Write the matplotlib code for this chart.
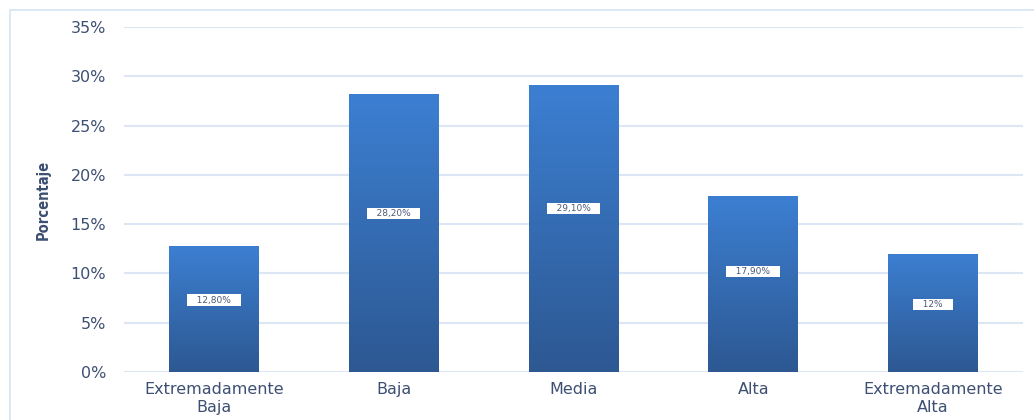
import numpy as np
import matplotlib.pyplot as plt
from matplotlib.patches import Rectangle
from matplotlib.colors import LinearSegmentedColormap

categorias = ['Extremadamente\nBaja', 'Baja', 'Media', 'Alta', 'Extremadamente\nAlta']
valores = [12.8, 28.2, 29.1, 17.9, 12.0]
etiquetas = ['12,80%', '28,20%', '29,10%', '17,90%', '12%']
yticks = [0, 5, 10, 15, 20, 25, 30, 35]

txt_color = '#3d4f72'

fig = plt.figure(figsize=(10.34, 4.2), dpi=100)
# light border around chart area
fig.patches.append(Rectangle((10/1034, -0.05), 1.1, (420-10)/420 + 0.05,
                             transform=fig.transFigure, fill=False,
                             edgecolor='#d6e4f5', linewidth=1.2))
ax = fig.add_axes([124/1034, 48/420, (1023-124)/1034, (372-27)/420])

x = np.arange(len(categorias))
bars = ax.bar(x, valores, width=0.5, color='#3570bb', zorder=2)

# vertical gradient on each bar
grad = np.linspace(0, 1, 256).reshape(-1, 1)
cmap = LinearSegmentedColormap.from_list('g', ['#2d5892', '#3c7fd2'])
for b in bars:
    bx, by = b.get_x(), b.get_y()
    w, h = b.get_width(), b.get_height()
    im = ax.imshow(grad, extent=[bx, bx + w, by, by + h], origin='lower',
                   cmap=cmap, aspect='auto', zorder=3)
    im.set_clip_path(b)

for xi, v, lab in zip(x, valores, etiquetas):
    ax.text(xi, v * 0.57, '   ' + lab + '   ', ha='center', va='center',
            fontsize=6.5, color='#4a5a78', zorder=5,
            bbox=dict(boxstyle='square,pad=0.12', facecolor='white',
                      edgecolor='none'))

ax.set_xlim(-0.5, 4.5)
ax.set_ylim(0, 35)
ax.set_yticks(yticks)
ax.set_yticklabels([f'{t}%' for t in yticks], fontsize=11.5, color=txt_color)
ax.set_xticks(x)
ax.set_xticklabels(categorias, fontsize=11.5, color=txt_color, linespacing=1.25)
ax.tick_params(length=0, pad=13, axis='y')
ax.tick_params(length=0, pad=7, axis='x')
ax.grid(axis='y', color='#dce6f4', linewidth=1.5, zorder=0)
ax.set_axisbelow(True)
for s in ax.spines.values():
    s.set_visible(False)
ax.set_ylabel('Porcentaje', fontsize=10.5, color=txt_color, fontweight='bold',
              fontstretch='condensed', labelpad=14)

fig.savefig('out.png', dpi=100)
